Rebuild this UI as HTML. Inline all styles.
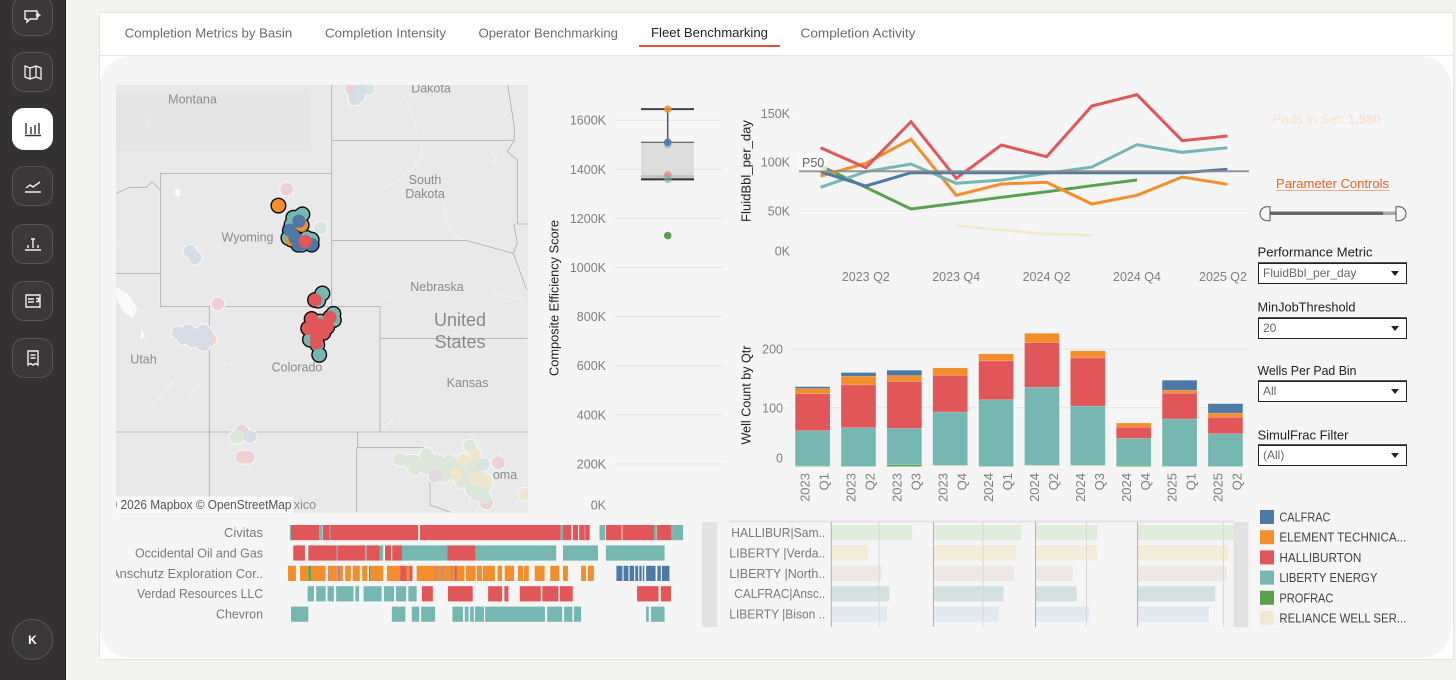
<!DOCTYPE html>
<html lang="en">
<head>
<meta charset="utf-8">
<title>Fleet Benchmarking</title>
<style>
html,body{margin:0;padding:0;width:1456px;height:680px;overflow:hidden;background:#f3f4ef;font-family:"Liberation Sans",sans-serif;}
#stage{position:relative;width:1456px;height:680px;overflow:hidden;}
#sidebar{position:absolute;left:0;top:0;width:65px;height:680px;background:#333131;border-right:1px solid #222;}
.navbtn{position:absolute;left:12px;width:39px;height:38px;border:1px solid #555;border-radius:12px;background:#3a3838;display:flex;align-items:center;justify-content:center;}
.navbtn.active{background:#fff;border-color:#fff;height:40px;}
#card{position:absolute;left:99px;top:12px;width:1353px;height:646px;background:#fff;border:1px solid #e2e4e6;}
#tabline{position:absolute;left:100px;top:55px;width:1353px;height:1px;background:#e2e4e6;}
#panel{position:absolute;left:100px;top:56px;width:1351px;height:602px;background:#f5f5f5;border-radius:30px;}
#charts{position:absolute;left:0;top:0;width:1456px;height:680px;}
.select{position:absolute;left:1258px;width:147px;height:19px;background:#fff;border:1px solid #222;box-shadow:0 -1px 0 #555;font-size:12px;color:#666;line-height:19px;}
.select span{position:absolute;left:4px;top:0;}
.select i{position:absolute;right:7px;top:7px;width:0;height:0;border-left:4px solid transparent;border-right:4px solid transparent;border-top:5px solid #222;}
text{font-family:"Liberation Sans",sans-serif;}
</style>
</head>
<body>
<div id="stage">
  <div id="sidebar">
    <div class="navbtn" style="top:-4px"><svg width="20" height="18" viewBox="0 0 20 18"><path d="M2 4h12v8H7l-3 3v-3H2z" fill="none" stroke="#eee" stroke-width="1.4"/><path d="M15 5l1.2 2.2L18.5 8l-2.3 1L15 11l-1-2-2-1 2-.8z" fill="#eee"/></svg></div>
    <div class="navbtn" style="top:52px"><svg width="20" height="18" viewBox="0 0 20 18"><path d="M2 3l5 2 6-2 5 2v11l-5-2-6 2-5-2zM7 5v11M13 3v11" fill="none" stroke="#eee" stroke-width="1.3"/></svg></div>
    <div class="navbtn active" style="top:108px"><svg width="20" height="18" viewBox="0 0 20 18"><path d="M3 3v11M8 7v7M12 5v9M16 3v11M2 15.5h16" fill="none" stroke="#333" stroke-width="1.4"/></svg></div>
    <div class="navbtn" style="top:166px"><svg width="20" height="18" viewBox="0 0 20 18"><path d="M3 11l4-3 3 2 7-5M2 15h16" fill="none" stroke="#eee" stroke-width="1.4"/></svg></div>
    <div class="navbtn" style="top:224px"><svg width="20" height="18" viewBox="0 0 20 18"><path d="M5 10v3M10 4v9M15 10v3M8 4h4M2 15h16" fill="none" stroke="#eee" stroke-width="1.4"/></svg></div>
    <div class="navbtn" style="top:281px"><svg width="20" height="18" viewBox="0 0 20 18"><path d="M3 3h14v12H3zM5 7h6M5 10h6M13 6.5h2.5v3H13" fill="none" stroke="#eee" stroke-width="1.4"/></svg></div>
    <div class="navbtn" style="top:338px"><svg width="20" height="18" viewBox="0 0 20 18"><path d="M5 2h10v14l-2.5-1.5L10 16l-2.5-1.5L5 16zM7.5 6h5M7.5 9h5" fill="none" stroke="#eee" stroke-width="1.4"/></svg></div>
    <div class="navbtn" style="top:619px;height:39px;border-radius:20px;color:#fff;font-weight:bold;font-size:12px">K</div>
  </div>
  <div id="card"></div>
  <div id="tabline"></div>
  <div id="panel"></div>

  <svg id="charts" width="1456" height="680" viewBox="0 0 1456 680">
    <defs>
      <clipPath id="mapClip"><rect x="116" y="85" width="412" height="428"/></clipPath>
      <clipPath id="ganttClip"><rect x="116" y="520" width="580" height="110"/></clipPath>
    </defs>

    <g font-size="13" fill="#6b6b6b">
      <text x="124.7" y="37.5" textLength="167.5" lengthAdjust="spacingAndGlyphs">Completion Metrics by Basin</text>
      <text x="325" y="37.5" textLength="121" lengthAdjust="spacingAndGlyphs">Completion Intensity</text>
      <text x="478.5" y="37.5" textLength="139.5" lengthAdjust="spacingAndGlyphs">Operator Benchmarking</text>
      <text x="651" y="37" textLength="117" lengthAdjust="spacingAndGlyphs" fill="#222">Fleet Benchmarking</text>
      <text x="800.5" y="37.5" textLength="115" lengthAdjust="spacingAndGlyphs">Completion Activity</text>
      <rect x="639" y="45" width="141" height="2" fill="#e8503a"/>
    </g>

    <g id="map" clip-path="url(#mapClip)">
      <rect x="116" y="85" width="412" height="428" fill="#e9e9e9"/>
      <g transform="translate(110,80) scale(0.33333)">
        <rect x="18" y="32" width="582" height="180" fill="#e6e6e6"/>
        <g fill="none" stroke="#f6f6f6" stroke-width="2">
          <path d="M890 60l25 70 5 40M935 190l-5 60-80 60-40 20M1000 400l30 60 50 30M1000 360l10 60M190 905l-40 45-30 35M270 910l-40 50M850 1020l-40 30M1150 640l90 20M820 650l40 10M1160 230l-10 20M30 480l-15 15M110 110l10 25M360 850l50 20"/>
        </g>
        <path d="M18 620l35 20 30 45-15 30-28-20-20-40zM195 325l18 3-5 25-12-8zM95 745l10 25-15 10z" fill="#fafafa"/>
        <g fill="none" stroke="#f7f7f7" stroke-width="5" opacity=".8">
          <path d="M152 280H665V680H152ZM665 15V280M665 181H1213M665 482H1070L1210 520L1250 630M298 680H810V1056H298ZM298 680V1296M18 580H152M810 775H1253M18 1056H1253M743 1056V1103H950M740 1103V1296M960 1200V1275L1020 1296M18 340L60 322H110L125 305L152 330M1193 15L1213 140V181L1192 215L1222 240V432H1253M1212 432L1222 490L1210 520"/>
        </g>
        <g fill="none" stroke="#b2b2b2" stroke-width="3">
          <path d="M152 280H665V680H152ZM665 15V280M665 181H1213M665 482H1070L1210 520L1250 630M298 680H810V1056H298ZM298 680V1296M18 580H152M810 775H1253M18 1056H1253M743 1056V1103H950M740 1103V1296M960 1200V1275L1020 1296M18 340L60 322H110L125 305L152 330M1193 15L1213 140V181L1192 215L1222 240V432H1253M1212 432L1222 490L1210 520"/>
        </g>
      </g>
      <g id="mapDots"></g>
      <g font-size="12.5" fill="#8a8a8a" text-anchor="middle">
        <text x="192.5" y="103.5">Montana</text>
        <text x="431" y="92.5">Dakota</text>
        <text x="425" y="184">South</text>
        <text x="425" y="198">Dakota</text>
        <text x="247.5" y="241.5">Wyoming</text>
        <text x="437" y="291">Nebraska</text>
        <text x="460" y="326" font-size="18">United</text>
        <text x="460" y="348" font-size="18">States</text>
        <text x="143.5" y="363.5">Utah</text>
        <text x="297" y="371.5">Colorado</text>
        <text x="467.5" y="387">Kansas</text>
        <text x="505" y="479">oma</text>
        <text x="305" y="509">xico</text>
      </g>
      <rect x="116" y="496.5" width="177" height="16.5" fill="#fafafa" opacity=".95"/>
      <text x="291.5" y="509" text-anchor="end" font-size="12.5" fill="#555" textLength="183" lengthAdjust="spacingAndGlyphs">© 2026 Mapbox  © OpenStreetMap</text>
    </g>

    <g id="boxChart"></g>
    <g id="lineChart"></g>
    <g id="barChart"></g>
    <g id="gantt"></g>
    <g id="panelBars"></g>
    <g id="legend"></g>

    <g>
      <text x="1272.7" y="123.5" font-size="13" fill="#f3e3d6" textLength="108" lengthAdjust="spacingAndGlyphs">Pads in Set: <tspan font-weight="bold">1,580</tspan></text>
      <text x="1276" y="188" font-size="13" fill="#e8632a" textLength="113" lengthAdjust="spacingAndGlyphs">Parameter Controls</text>
      <rect x="1276" y="190" width="113" height="1" fill="#f0a788"/>
      <rect x="1270" y="211.5" width="113" height="3.5" fill="#666"/>
      <rect x="1383" y="211.5" width="13" height="3.5" fill="#aaa"/>
      <path d="M1270 206.7h-3a7 7 0 0 0 0 14h3z" fill="#f5f5f5" stroke="#555"/>
      <path d="M1396 206.7h3a7 7 0 0 1 0 14h-3z" fill="#f5f5f5" stroke="#555"/>
      <g font-size="13" fill="#222">
        <text x="1257.5" y="256.5" textLength="115" lengthAdjust="spacingAndGlyphs">Performance Metric</text>
        <text x="1257.5" y="311.5" textLength="98" lengthAdjust="spacingAndGlyphs">MinJobThreshold</text>
        <text x="1257.5" y="375" textLength="99" lengthAdjust="spacingAndGlyphs">Wells Per Pad Bin</text>
        <text x="1257.5" y="439.5" textLength="91" lengthAdjust="spacingAndGlyphs">SimulFrac Filter</text>
      </g>
    </g>
  </svg>

  <div class="select" style="top:263px"><span>FluidBbl_per_day</span><i></i></div>
  <div class="select" style="top:318px"><span>20</span><i></i></div>
  <div class="select" style="top:381px"><span>All</span><i></i></div>
  <div class="select" style="top:445px"><span>(All)</span><i></i></div>
</div>

<script>
// ---------- fleet palette ----------
const fleetColors = {C:'#4e79a7',E:'#f28e2b',H:'#e15759',L:'#76b7b2',P:'#59a14f',R:'#f1ead3',X:'#b07aa1',Y:'#edc948'};
const paleColors = {C:'#d6dde7',H:'#efd0d3',L:'#d6e4e3',P:'#dde7d9',X:'#e2d8e1',Y:'#efe7cd'};

// ---------- box plot data (thousands) ----------
const boxTickValues = [0,200,400,600,800,1000,1200,1400,1600];
const boxStats = {upper:1645,q3:1510,median:1377,q1:1359};
const boxPointValues = [1645,1510,1500,1377,1358,1130];
const boxPointFleets = ['E','C','C','H','L','P'];
const boxPointAlpha = [0.85,0.9,0.35,0.5,0.6,1];

// ---------- line chart data (thousands of bbl per day) ----------
const quarters = ['2023 Q1','2023 Q2','2023 Q3','2023 Q4','2024 Q1','2024 Q2','2024 Q3','2024 Q4','2025 Q1','2025 Q2'];
const lineTickValues = [0,50,100,150];
const lineXLabels = ['2023 Q2','2023 Q4','2024 Q2','2024 Q4','2025 Q2'];
const lineHalliburton = [114.8,94.4,141.4,83.5,117.6,105.6,157.5,169,122,126.8];
const lineLiberty = [74.3,90.3,98.2,78.4,81.8,88.6,95,117.9,110.1,114.8];
const lineElement = [85.9,98.9,123.4,66.2,77.7,79.4,57.3,66.2,84.9,77.4];
const lineCalfrac = [90.3,75.7,89.3,89.3,89.3,89.3,89.3,89.3,89.3,92.7];
const lineProfrac = [96.1,74.3,52.1,58,64.1,69.8,76,81.8,null,null];
const lineReliance = [null,null,null,35,30.7,26.6,25.3,null,null,null];
const p50Value = 90.7;

// ---------- stacked bar data (wells) ----------
const barTickValues = [0,100,200];
const barProfrac = [1,0,3,0,0,0,0,2,0,0];
const barReliance = [0,0,0,2,0,2,2,0,0,0];
const barLiberty = [60,66,62,91,114,133,101,46,81,56];
const barHalliburton = [63,73,80,62,66,76,82,19,44,28];
const barElement = [9,15,10,13,12,16,12,7,5,7];
const barCalfrac = [3,6,9,0,0,0,0,0,17,16];

// ---------- map data (lon, lat, fleet) ----------
const activeSites = [
 [-105.57,43.7,'L'],[-105.3,43.75,'L'],[-105.2,43.8,'L'],[-105.64,43.5,'L'],[-105.02,43.1,'L'],[-104.82,43.05,'L'],[-105.23,42.9,'L'],[-105.77,43.1,'L'],
 [-105.23,43.48,'E'],[-105.57,43.15,'E'],[-105.64,43.05,'E'],[-106.18,44.06,'E'],
 [-105.34,43.6,'C'],[-105.71,43.33,'C'],[-105.5,43.1,'C'],[-105.37,42.9,'C'],[-105.23,42.92,'C'],[-104.82,42.9,'C'],[-105.09,43.0,'H'],
 [-104.38,41.42,'L'],[-104.55,41.2,'L'],[-104.68,41.22,'H'],
 [-103.93,40.79,'L'],[-103.91,40.6,'L'],[-104.48,40.55,'L'],[-104.89,39.99,'L'],[-104.59,39.83,'L'],[-104.51,39.51,'L'],
 [-104.82,40.63,'H'],[-104.07,40.68,'H'],[-104.96,40.34,'H'],[-104.55,40.31,'H'],[-104.18,40.38,'H'],[-104.62,40.04,'H'],[-104.34,40.2,'H'],[-104.72,40.38,'H'],[-104.62,39.88,'H'],[-104.45,40.45,'H']
];
const paleSites = [
 [-105.84,44.54,'H'],[-104.45,43.4,'L'],[-108.65,41.1,'H'],[-109.8,42.7,'C'],[-109.59,42.5,'C'],
 [-109.69,39.94,'H'],[-108.98,39.99,'H'],[-110.28,40.2,'C'],[-110.07,40.04,'C'],[-109.87,40.26,'C'],[-109.46,40.15,'C'],[-109.25,40.26,'C'],[-109.12,40.15,'C'],[-109.25,39.83,'C'],[-109.66,39.99,'C'],
 [-103.18,47.4,'H'],[-102.5,47.4,'L'],[-102.84,47.4,'C'],[-103.05,47.12,'C'],[-102.9,47.2,'C'],[-102.77,47.55,'C'],
 [-107.68,37.06,'H'],[-107.82,36.9,'P'],[-107.92,36.85,'P'],[-107.34,36.88,'C'],[-107.68,36.2,'H'],[-107.41,36.2,'H'],
 [-97.18,36.02,'H'],[-97.66,34.67,'H'],
 [-101.2,36.12,'P'],[-100.86,36.07,'P'],[-100.63,36.07,'P'],[-100.39,36.01,'P'],[-100.11,36.29,'P'],[-99.91,36.12,'P'],[-99.98,35.84,'P'],[-100.1,35.85,'P'],[-100.6,35.8,'P'],[-99.64,36.07,'P'],[-99.43,35.84,'P'],[-99.16,36.07,'P'],[-99.16,35.68,'P'],[-99.05,35.8,'P'],[-98.89,35.96,'P'],[-98.61,36.07,'P'],[-98.61,35.68,'P'],[-98.5,35.85,'P'],[-98.34,36.57,'P'],[-98.34,35.4,'P'],[-98.13,35.96,'P'],[-98.1,35.7,'P'],[-99.43,35.57,'P'],[-98.7,35.4,'P'],[-98.28,35.12,'P'],[-98.07,34.96,'P'],[-97.73,35.23,'P'],[-97.73,34.84,'P'],[-97.93,35.12,'P'],
 [-98.13,36.29,'Y'],[-98.61,36.11,'Y'],[-98.89,35.62,'Y'],[-97.93,35.51,'Y'],[-98.13,35.51,'Y'],[-97.66,35.4,'Y'],[-96.09,34.97,'Y'],
 [-97.79,35.96,'L'],[-99.77,35.57,'X']
];

// ---------- gantt data (day index start, day index end, fleet) ----------
const ganttOperators = ['Civitas','Occidental Oil and Gas','Anschutz Exploration Cor..','Verdad Resources LLC','Chevron'];
const ganttCivitas = [[478,481,'L'],[481,556,'H'],[556,565,'L'],[566,584,'H'],[584,586,'L'],[586,819,'H'],[824,1198,'H'],[1198,1204,'L'],[1204,1226,'H'],[1230,1244,'H'],[1247,1262,'H'],[1263,1275,'H'],[1301,1316,'L'],[1318,1360,'H'],[1362,1446,'H'],[1446,1452,'L'],[1453,1493,'H'],[1494,1523,'L']];
const ganttOxy = [[487,518,'H'],[527,602,'H'],[602,605,'L'],[605,678,'H'],[678,682,'L'],[682,717,'H'],[717,726,'L'],[731,747,'H'],[750,776,'H'],[776,897,'L'],[897,972,'H'],[972,1186,'L'],[1204,1297,'L'],[1318,1474,'L']];
const ganttAnschutz = [[473,494,'E'],[505,527,'E'],[527,534,'P'],[534,573,'E'],[580,582,'H'],[582,603,'E'],[604,611,'X'],[611,619,'E'],[625,640,'E'],[645,664,'E'],[670,684,'E'],[688,692,'P'],[692,726,'E'],[736,771,'E'],[771,788,'H'],[788,796,'E'],[796,804,'H'],[815,864,'E'],[864,868,'X'],[868,883,'E'],[883,887,'X'],[887,906,'E'],[906,910,'X'],[910,916,'E'],[916,922,'H'],[922,942,'E'],[946,972,'E'],[975,989,'E'],[991,1023,'E'],[1030,1042,'E'],[1049,1074,'E'],[1084,1098,'E'],[1100,1113,'E'],[1129,1155,'E'],[1170,1194,'E'],[1204,1217,'E'],[1252,1265,'E'],[1270,1286,'E'],[1346,1362,'C'],[1365,1378,'C'],[1381,1393,'C'],[1396,1404,'C'],[1407,1413,'C'],[1416,1420,'C'],[1425,1450,'C'],[1455,1464,'C'],[1467,1487,'C']];
const ganttVerdad = [[525,542,'L'],[548,573,'L'],[578,595,'L'],[601,647,'L'],[652,662,'L'],[674,722,'L'],[728,755,'L'],[760,787,'L'],[793,815,'L'],[829,858,'H'],[898,964,'H'],[1005,1042,'H'],[1048,1059,'H'],[1089,1145,'H'],[1149,1192,'H'],[1196,1230,'H'],[1401,1458,'H'],[1464,1491,'H']];
const ganttChevron = [[481,527,'L'],[749,785,'L'],[802,822,'L'],[827,864,'L'],[910,938,'L'],[943,953,'L'],[957,967,'L'],[970,994,'L'],[997,1156,'L'],[1162,1202,'L'],[1207,1229,'L'],[1233,1252,'L'],[1425,1432,'L'],[1438,1474,'L']];
const ganttRows = [ganttCivitas,ganttOxy,ganttAnschutz,ganttVerdad,ganttChevron];

// ---------- fleet / operator panel data ----------
const pairLabels = ['HALLIBUR|Sam..','LIBERTY |Verda..','LIBERTY |North..','CALFRAC|Ansc..','LIBERTY |Bison ..'];
const pairColors = ['#e0ecdc','#f3ecd8','#eee8e4','#d3e2e0','#e2e9f1'];
const pairPanel1 = [176,80,110,126,121];
const pairPanel2 = [191,180,176,153,142];
const pairPanel3 = [135,135,81,90,117];
const pairPanel4 = [209,197,193,169,155];
const pairPanels = [pairPanel1,pairPanel2,pairPanel3,pairPanel4];
const panelReference = [104,108,111,187];

// ---------- legend data ----------
const legendFleets = ['CALFRAC','ELEMENT TECHNICA...','HALLIBURTON','LIBERTY ENERGY','PROFRAC','RELIANCE WELL SER...'];
const legendKeys = ['C','E','H','L','P','R'];

const NS = 'http://www.w3.org/2000/svg';
function svgEl(tag, attrs, parent){
  const el = document.createElementNS(NS, tag);
  for (const k in attrs) el.setAttribute(k, attrs[k]);
  parent.appendChild(el);
  return el;
}

// ---------- map ----------
(function(){
  const g = document.getElementById('mapDots');
  const merc = lat => Math.asinh(Math.tan(lat*Math.PI/180));
  const px = lon => 160.67 + (lon + 111) * 24.43;
  const py = lat => 173.33 + (0.8814 - merc(lat)) * 1400;
  paleSites.forEach(function(s){
    const halo = svgEl('circle',{cx:px(s[0]),cy:py(s[1]),r:7.6,fill:'#f5f5f5'},g);
    
    
  });
  paleSites.forEach(function(s){
    const dot = svgEl('circle',{cx:px(s[0]),cy:py(s[1]),r:6.4,fill:paleColors[s[2]]},g);
    
    
  });
  activeSites.forEach(function(s){
    const halo = svgEl('circle',{cx:px(s[0]),cy:py(s[1]),r:8,fill:'#0a0a0a'},g);
    
    
  });
  activeSites.forEach(function(s){
    const dot = svgEl('circle',{cx:px(s[0]),cy:py(s[1]),r:6.6,fill:fleetColors[s[2]]},g);
    
    
  });
})();

// ---------- box plot ----------
(function(){
  const g = document.getElementById('boxChart');
  const y = v => 513 - v * 0.2455;
  const cx = 667.7;
  boxTickValues.forEach(function(v){
    if (v > 0) {
      const grid = svgEl('line',{x1:615,x2:722,y1:y(v),y2:y(v),stroke:'#e2e2e2','stroke-width':1},g);
      
      
    }
    const t = svgEl('text',{x:606,y:Math.min(y(v),505)+4.5,'text-anchor':'end','font-size':12.5,fill:'#7f7f7f'},g);
    t.textContent = v + 'K';
    
    
  });
  const title = svgEl('text',{x:0,y:0,'font-size':13,fill:'#222','text-anchor':'middle',transform:'translate(558.5,298) rotate(-90)',textLength:156,lengthAdjust:'spacingAndGlyphs'},g);
  title.textContent = 'Composite Efficiency Score';
  
  
  const box = svgEl('rect',{x:641,y:y(boxStats.q3),width:53,height:y(boxStats.q1)-y(boxStats.q3),fill:'#dddddd'},g);
  
  
  const lower = svgEl('rect',{x:641,y:y(boxStats.median),width:53,height:y(boxStats.q1)-y(boxStats.median),fill:'#c4c4c4'},g);
  
  
  const whisker = svgEl('line',{x1:cx,x2:cx,y1:y(boxStats.upper),y2:y(boxStats.q3),stroke:'#555','stroke-width':1.5},g);
  
  
  const capU = svgEl('line',{x1:641,x2:694,y1:y(boxStats.upper),y2:y(boxStats.upper),stroke:'#444','stroke-width':2},g);
  
  
  const capQ3 = svgEl('line',{x1:641,x2:694,y1:y(boxStats.q3),y2:y(boxStats.q3),stroke:'#444','stroke-width':1},g);
  
  
  const capL = svgEl('line',{x1:641,x2:694,y1:y(boxStats.q1),y2:y(boxStats.q1),stroke:'#333','stroke-width':2},g);
  
  
  boxPointValues.forEach(function(v,i){
    const p = svgEl('circle',{cx:cx,cy:y(v),r:3.8,fill:fleetColors[boxPointFleets[i]],'fill-opacity':boxPointAlpha[i]},g);
    
    
  });
})();

// ---------- line chart ----------
(function(){
  const g = document.getElementById('lineChart');
  const x = i => 820.6 + i * 45.2;
  const y = v => 260 - v * 0.978;
  lineTickValues.forEach(function(v){
    if (v > 0) {
      const grid = svgEl('line',{x1:798,x2:1248,y1:y(v),y2:y(v),stroke:'#efefef','stroke-width':1},g);
      
      
    }
    const t = svgEl('text',{x:790,y:Math.min(y(v),251)+4.5,'text-anchor':'end','font-size':12.5,fill:'#7f7f7f'},g);
    t.textContent = v + 'K';
    
    
  });
  lineXLabels.forEach(function(lab){
    const i = quarters.indexOf(lab);
    const cx = Math.min(x(i), 1223);
    const t = svgEl('text',{x:cx,y:281,'text-anchor':'middle','font-size':12.5,fill:'#7f7f7f'},g);
    t.textContent = lab;
    
    
  });
  const title = svgEl('text',{x:0,y:0,'font-size':13,fill:'#222','text-anchor':'middle',transform:'translate(750.5,171) rotate(-90)',textLength:102,lengthAdjust:'spacingAndGlyphs'},g);
  title.textContent = 'FluidBbl_per_day';
  
  
  function series(values, key, name){
    const pts = [];
    values.forEach(function(v,i){ if (v !== null) pts.push(x(i).toFixed(1) + ',' + y(v).toFixed(1)); });
    const path = svgEl('polyline',{points:pts.join(' '),fill:'none',stroke:fleetColors[key],'stroke-width':3,'stroke-linejoin':'miter'},g);
    
    
  }
  series(lineReliance,'R','line-reliance');
  series(lineProfrac,'P','line-profrac');
  series(lineElement,'E','line-element');
  series(lineLiberty,'L','line-liberty');
  series(lineHalliburton,'H','line-halliburton');
  series(lineCalfrac,'C','line-calfrac');
  const p50 = svgEl('line',{x1:799,x2:1249,y1:y(p50Value),y2:y(p50Value),stroke:'#8c8c8c','stroke-width':2,'stroke-opacity':0.9},g);
  
  
  const box = svgEl('rect',{x:799,y:y(p50Value)-19,width:28,height:18,fill:'#fff','fill-opacity':0.7},g);
  
  
  const lab = svgEl('text',{x:802,y:y(p50Value)-4.5,'font-size':12.5,fill:'#666'},g);
  lab.textContent = 'P50';
  
  
})();

// ---------- stacked bars ----------
(function(){
  const g = document.getElementById('barChart');
  const y = v => 466.5 - v * 0.587;
  const x = i => 795.2 + i * 45.87;
  const bw = 34.8;
  barTickValues.forEach(function(v){
    if (v > 0) {
      const grid = svgEl('line',{x1:790,x2:1248,y1:y(v),y2:y(v),stroke:'#e4e4e4','stroke-width':1},g);
      
      
    }
    const t = svgEl('text',{x:783,y:Math.min(y(v),458)+4.5,'text-anchor':'end','font-size':12.5,fill:'#7f7f7f'},g);
    t.textContent = v;
    
    
  });
  const title = svgEl('text',{x:0,y:0,'font-size':13,fill:'#222','text-anchor':'middle',transform:'translate(750.5,395) rotate(-90)',textLength:99,lengthAdjust:'spacingAndGlyphs'},g);
  title.textContent = 'Well Count by Qtr';
  
  
  const stacks = [[barProfrac,'P'],[barReliance,'R'],[barLiberty,'L'],[barHalliburton,'H'],[barElement,'E'],[barCalfrac,'C']];
  quarters.forEach(function(q,i){
    let run = 0;
    stacks.forEach(function(s){
      const v = s[0][i];
      if (!v) return;
      const r = svgEl('rect',{x:x(i),y:y(run+v),width:bw,height:v*0.587,fill:fleetColors[s[1]],stroke:'#fff','stroke-opacity':0.25,'stroke-width':0.5},g);
      
      
      run += v;
    });
    const parts = q.split(' ');
    const yr = svgEl('text',{x:0,y:0,'font-size':13,fill:'#7f7f7f','text-anchor':'end',transform:'translate('+(x(i)+14.5)+',473) rotate(-90)'},g);
    yr.textContent = parts[0];
    
    
    const ql = svgEl('text',{x:0,y:0,'font-size':13,fill:'#7f7f7f','text-anchor':'end',transform:'translate('+(x(i)+33.5)+',473) rotate(-90)'},g);
    ql.textContent = parts[1];
    
    
  });
})();

// ---------- gantt ----------
(function(){
  const g = document.getElementById('gantt');
  const x = d => 288 + (d - 473) * 395 / 1050;
  const rowY = i => 525 + i * 20.4;
  const lengths = [39,128,152,126,47];
  ganttOperators.forEach(function(name,i){
    const t = svgEl('text',{x:263,y:rowY(i)+12,'text-anchor':'end','font-size':13,fill:'#7a7a7a','clip-path':'url(#ganttClip)',textLength:lengths[i],lengthAdjust:'spacingAndGlyphs'},g);
    t.textContent = name;
    
    
    ganttRows[i].forEach(function(s){
      const r = svgEl('rect',{x:x(s[0]),y:rowY(i),width:x(s[1])-x(s[0]),height:15.2,fill:fleetColors[s[2]]},g);
      
      
    });
  });
})();

// ---------- fleet/operator panels ----------
(function(){
  const g = document.getElementById('panelBars');
  const px = i => 831.3 + i * 102.1;
  const w = v => v / 2.178;
  const rowY = i => 525 + i * 20.4;
  const sideL = svgEl('rect',{x:702,y:522,width:15.5,height:105,fill:'#e2e2e2'},g);
  
  
  const sideR = svgEl('rect',{x:1233.5,y:522,width:15,height:105,fill:'#e2e2e2'},g);
  
  
  const top = svgEl('line',{x1:729,x2:1233.5,y1:521.5,y2:521.5,stroke:'#e4e0e3','stroke-width':2},g);
  
  
  pairPanels.forEach(function(vals,p){
    vals.forEach(function(v,r){
      const b = svgEl('rect',{x:px(p),y:rowY(r),width:w(v),height:15.2,fill:pairColors[r]},g);
      
      
    });
    const ref = svgEl('line',{x1:px(p)+w(panelReference[p]),x2:px(p)+w(panelReference[p]),y1:522,y2:627,stroke:'#d8d8d8','stroke-width':1},g);
    
    
    const axis = svgEl('line',{x1:px(p),x2:px(p),y1:522,y2:627,stroke:'#b0b0b0','stroke-width':1},g);
    
    
  });
  const labelLens = [94,96,96,91,96];
  pairLabels.forEach(function(lab,i){
    const t = svgEl('text',{x:825.3,y:rowY(i)+12,'text-anchor':'end','font-size':13,fill:'#7a7a7a',textLength:labelLens[i],lengthAdjust:'spacingAndGlyphs'},g);
    t.textContent = lab;
    
    
  });
})();

// ---------- legend ----------
(function(){
  const g = document.getElementById('legend');
  const lens = [51,127,82,98,54,127];
  legendFleets.forEach(function(name,i){
    const cy = 517 + i * 20.2;
    const sw = svgEl('rect',{x:1260,y:cy-7,width:14,height:14,fill:fleetColors[legendKeys[i]]},g);
    
    
    const t = svgEl('text',{x:1279.4,y:cy+4.5,'font-size':13,fill:'#444',textLength:lens[i],lengthAdjust:'spacingAndGlyphs'},g);
    t.textContent = name;
    
    
  });
})();
</script>
</body>
</html>
